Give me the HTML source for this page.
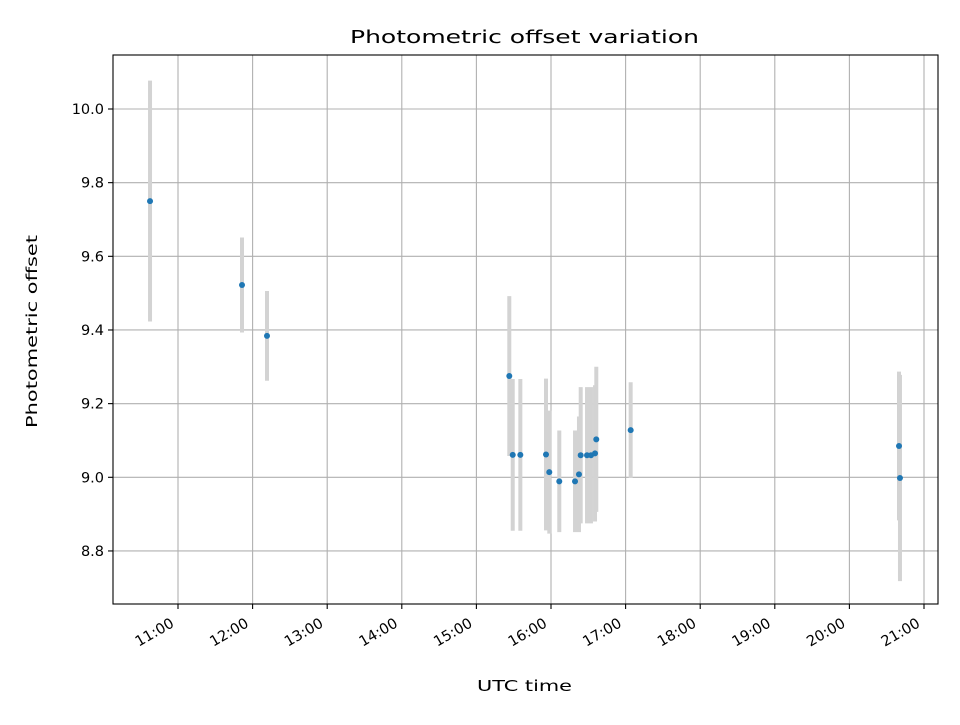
<!DOCTYPE html>
<html><head><meta charset="utf-8"><style>
body{margin:0;background:#fff}
svg text{font-family:"DejaVu Sans","Liberation Sans",sans-serif;fill:#000}
</style></head><body>
<svg id="chart" width="960" height="720" xmlns="http://www.w3.org/2000/svg">
<rect width="960" height="720" fill="#fff"/>
<g id="grid"></g><g id="bars"></g><g id="pts"></g><g id="axes"></g>
<text x="350" y="43" font-size="18" textLength="349" lengthAdjust="spacingAndGlyphs">Photometric offset variation</text>
<text x="477" y="691" font-size="15" textLength="95" lengthAdjust="spacingAndGlyphs">UTC time</text>
<text transform="translate(37,428) rotate(-90)" font-size="15" textLength="193" lengthAdjust="spacingAndGlyphs">Photometric offset</text>
</svg>
<script>
const times=[10.625,11.858,12.193,15.441,15.487,15.589,15.933,15.977,16.111,16.322,16.375,16.398,16.483,16.536,16.590,16.607,17.068,20.665,20.678];
const offsets=[9.750,9.522,9.384,9.275,9.061,9.061,9.062,9.014,8.989,8.989,9.008,9.060,9.060,9.060,9.065,9.103,9.128,9.085,8.998];
const errors=[0.327,0.129,0.122,0.217,0.206,0.206,0.206,0.167,0.138,0.138,0.157,0.185,0.185,0.185,0.185,0.197,0.130,0.202,0.280];
const xTicks=[11,12,13,14,15,16,17,18,19,20,21];
const yTicks=[8.8,9.0,9.2,9.4,9.6,9.8,10.0];
const L=113,R=938,T=55,B=604;
const xs=h=>178+(h-11)*74.6;
const ys=v=>109+(10-v)*368.3;
const NS="http://www.w3.org/2000/svg";
function mk(p,t,a){const e=document.createElementNS(NS,t);for(const k in a)e.setAttribute(k,a[k]);p.appendChild(e);return e;}
const grid=document.getElementById('grid'),axes=document.getElementById('axes'),bars=document.getElementById('bars'),pts=document.getElementById('pts');
xTicks.forEach(h=>{const x=xs(h);
 const g=mk(grid,'line',{x1:x,x2:x,y1:T,y2:B,stroke:'#b0b0b0','stroke-width':1.1});
 
 
 mk(axes,'line',{x1:x,x2:x,y1:B,y2:B+5,stroke:'#000','stroke-width':1.1});
 const ax=x-3, ay=B+22;
 const t=mk(axes,'text',{x:ax,y:ay,'text-anchor':'end','font-size':14.5,transform:`rotate(-30 ${ax} ${ay})`});
 
 
 t.textContent=String(h).padStart(2,'0')+':00';});
yTicks.forEach(v=>{const y=ys(v);
 const g=mk(grid,'line',{x1:L,x2:R,y1:y,y2:y,stroke:'#b0b0b0','stroke-width':1.1});
 
 
 mk(axes,'line',{x1:L-5,x2:L,y1:y,y2:y,stroke:'#000','stroke-width':1.1});
 const t=mk(axes,'text',{x:L-9,y:y+5,'text-anchor':'end','font-size':14.5});
 
 
 t.textContent=v.toFixed(1);});
const fr=mk(axes,'rect',{x:L,y:T,width:R-L,height:B-T,fill:'none',stroke:'#000','stroke-width':1.1});


times.forEach((h,i)=>{const x=xs(h);
 const b=mk(bars,'line',{x1:x,x2:x,y1:ys(offsets[i]+errors[i]),y2:ys(offsets[i]-errors[i]),stroke:'#d3d3d3','stroke-width':4});
 
 
 const c=mk(pts,'circle',{cx:x,cy:ys(offsets[i]),r:3,fill:'#1f77b4'});
 
 });
</script>
</body></html>
